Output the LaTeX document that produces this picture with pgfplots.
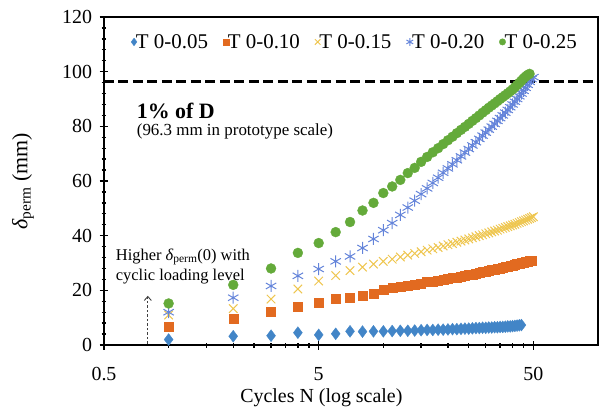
\documentclass[border=0pt]{standalone}
\usepackage{fontspec}
\setmainfont{Liberation Serif}
\usepackage{pgfplots}
\pgfplotsset{compat=1.18}
\usetikzlibrary{arrows.meta}
\definecolor{cA}{RGB}{66,133,199}
\definecolor{cB}{RGB}{226,106,32}
\definecolor{cC}{RGB}{238,198,80}
\definecolor{cD}{RGB}{100,132,218}
\definecolor{cE}{RGB}{100,170,58}
\begin{document}
\begin{tikzpicture}
\begin{axis}[
  name=ax,
  xmode=log,
  scale only axis, width=494bp, height=328bp,
  xmin=0.5, xmax=100, ymin=0, ymax=120,
  xtick={0.5,5,50}, xticklabels={0.5,5,50},
  minor xtick={1,1.5,2,2.5,3,3.5,4,4.5,10,15,20,25,30,35,40,45},
  ytick={0,20,40,60,80,100,120}, minor y tick num=4,
  xtick pos=bottom, ytick pos=left,
  tick align=center,
  major tick length=9bp, minor tick length=5bp,
  every tick/.style={black, line width=1.3bp},
  axis line style={black, line width=1.5bp},
  /pgf/number format/assume math mode=true,
  tick label style={font=\fontsize{20}{22}\selectfont},
  xticklabel style={yshift=-14bp},
  yticklabel style={xshift=-4bp},
  xlabel={Cycles N (log scale)},
  xlabel style={font=\fontsize{20}{22}\selectfont, at={(axis description cs:0.44,0)}, anchor=center, yshift=-53bp},
  ylabel={{\itshape δ}\textsubscript{perm} (mm)},
  ylabel style={font=\fontsize{22}{24}\selectfont, at={(axis description cs:-0.164,0.5)}, anchor=center},
  legend columns=5,
  legend style={draw=none, fill=none, at={(axis description cs:0.508,0.924)}, anchor=center,
    font=\fontsize{21}{23}\selectfont,
    /tikz/every even column/.append style={column sep=13bp},
    /tikz/every odd column/.append style={column sep=-3bp}},
  legend image post style={scale=0.65},
  clip=false,
]
\addplot[black, line width=2.8bp, dash pattern=on 10bp off 4.5bp, forget plot] coordinates {(0.5,96.3) (100,96.3)};

\addplot[only marks, mark=diamond*, mark size=6bp, color=cA, mark options={fill=cA, draw=cA, line width=0.3bp}] table[row sep=\\]{
x y\\ 1 2.0\\ 2 3.2\\ 3 3.4\\ 4 4.5\\ 5 3.7\\ 6 4.1\\ 7 5.0\\ 8 4.9\\ 9 5.0\\ 10 5.0\\
11 5.1\\ 12 5.2\\ 13 5.2\\ 14 5.3\\ 15 5.4\\ 16 5.5\\ 17 5.5\\ 18 5.6\\ 19 5.6\\ 20 5.7\\
21 5.8\\ 22 5.8\\ 23 5.9\\ 24 6.0\\ 25 6.0\\ 26 6.1\\ 27 6.2\\ 28 6.2\\ 29 6.3\\ 30 6.3\\
31 6.4\\ 32 6.4\\ 33 6.5\\ 34 6.5\\ 35 6.6\\ 36 6.6\\ 37 6.7\\ 38 6.8\\ 39 6.8\\ 40 6.9\\
41 7.0\\ 42 7.1\\ 43 7.2\\ 44 7.3\\
};
\addlegendentry{T 0-0.05}

\addplot[only marks, mark=square*, mark size=4.5bp, color=cB, mark options={fill=cB, draw=cB, line width=0.3bp}] table[row sep=\\]{
x y\\ 1 6.8\\ 2 9.6\\ 3 12.3\\ 4 14.2\\ 5 15.6\\ 6 17.0\\ 7 17.2\\ 8 18.2\\ 9 18.8\\ 10 20.3\\
11 20.8\\ 12 21.3\\ 13 21.8\\ 14 22.2\\ 15 22.6\\ 16 23.0\\ 17 23.3\\ 18 23.6\\ 19 23.9\\ 20 24.2\\
21 24.5\\ 22 24.8\\ 23 25.1\\ 24 25.4\\ 25 25.7\\ 26 25.9\\ 27 26.2\\ 28 26.4\\ 29 26.7\\ 30 26.9\\
31 27.2\\ 32 27.4\\ 33 27.6\\ 34 27.9\\ 35 28.1\\ 36 28.3\\ 37 28.5\\ 38 28.8\\ 39 29.0\\ 40 29.2\\
41 29.4\\ 42 29.6\\ 43 29.8\\ 44 30.0\\ 45 30.2\\ 46 30.4\\ 47 30.6\\ 48 30.7\\ 49 30.8\\
};
\addlegendentry{T 0-0.10}

\addplot[only marks, mark=x, mark size=6bp, color=cC, mark options={line width=1bp}] table[row sep=\\]{
x y\\ 1 11.0\\ 2 13.3\\ 3 16.8\\ 4 20.5\\ 5 23.4\\ 6 25.4\\ 7 27.2\\ 8 28.5\\ 9 29.6\\ 10 30.6\\
11 31.4\\ 12 32.2\\ 13 32.9\\ 14 33.5\\ 15 34.1\\ 16 34.7\\ 17 35.2\\ 18 35.7\\ 19 36.2\\ 20 36.7\\
21 37.1\\ 22 37.6\\ 23 38.0\\ 24 38.4\\ 25 38.8\\ 26 39.2\\ 27 39.6\\ 28 40.0\\ 29 40.3\\ 30 40.7\\
31 41.0\\ 32 41.4\\ 33 41.7\\ 34 42.0\\ 35 42.4\\ 36 42.7\\ 37 43.0\\ 38 43.3\\ 39 43.6\\ 40 43.9\\
41 44.2\\ 42 44.5\\ 43 44.8\\ 44 45.1\\ 45 45.4\\ 46 45.7\\ 47 46.0\\ 48 46.3\\ 49 46.6\\ 50 46.9\\
};
\addlegendentry{T 0-0.15}

\addplot[only marks, mark=asterisk, mark size=6bp, color=cD, mark options={line width=1bp}] table[row sep=\\]{
x y\\ 1 12.0\\ 2 17.3\\ 3 21.6\\ 4 25.3\\ 5 27.8\\ 6 30.6\\ 7 32.4\\ 8 35.5\\ 9 38.8\\ 10 42.0\\
11 44.6\\ 12 47.6\\ 13 50.3\\ 14 52.8\\ 15 55.2\\ 16 57.3\\ 17 59.3\\ 18 61.2\\ 19 63.0\\ 20 64.6\\
21 66.1\\ 22 67.6\\ 23 69.0\\ 24 70.4\\ 25 71.7\\ 26 73.0\\ 27 74.2\\ 28 75.4\\ 29 76.6\\ 30 77.7\\
31 78.8\\ 32 79.9\\ 33 80.9\\ 34 82.0\\ 35 83.0\\ 36 84.0\\ 37 85.0\\ 38 86.0\\ 39 87.0\\ 40 88.0\\
41 89.0\\ 42 90.0\\ 43 91.0\\ 44 92.0\\ 45 93.0\\ 46 94.1\\ 47 95.2\\ 48 96.3\\ 49 97.3\\ 50 98.0\\
};
\addlegendentry{T 0-0.20}

\addplot[only marks, mark=*, mark size=5bp, color=cE, mark options={fill=cE, draw=cE, line width=0.3bp}] table[row sep=\\]{
x y\\ 1 15.2\\ 2 22.0\\ 3 28.0\\ 4 33.7\\ 5 37.3\\ 6 41.3\\ 7 45.0\\ 8 49.2\\ 9 52.0\\ 10 55.6\\
11 58.0\\ 12 60.4\\ 13 62.9\\ 14 64.8\\ 15 67.0\\ 16 68.8\\ 17 70.5\\ 18 72.0\\ 19 73.5\\ 20 74.9\\
21 76.2\\ 22 77.5\\ 23 78.7\\ 24 79.8\\ 25 80.9\\ 26 82.0\\ 27 83.0\\ 28 84.0\\ 29 85.0\\ 30 85.9\\
31 86.8\\ 32 87.6\\ 33 88.4\\ 34 89.2\\ 35 90.0\\ 36 90.7\\ 37 91.4\\ 38 92.1\\ 39 92.8\\ 40 93.5\\
41 94.3\\ 42 95.1\\ 43 95.9\\ 44 96.7\\ 45 97.5\\ 46 98.2\\ 47 98.8\\ 48 99.2\\
};
\addlegendentry{T 0-0.25}

\node[anchor=west, font=\bfseries\fontsize{22}{24}\selectfont, inner sep=0pt] at (axis cs:0.71,85.6) {1\% of D};
\node[anchor=west, font=\fontsize{17}{19}\selectfont, inner sep=0pt] at (axis cs:0.71,78.0) {(96.3 mm in prototype scale)};
\node[anchor=west, font=\fontsize{16.5}{18}\selectfont, inner sep=0pt] at (axis cs:0.567,32.2) {Higher {\itshape δ}\textsubscript{perm}(0) with};
\node[anchor=west, font=\fontsize{16.5}{18}\selectfont, inner sep=0pt] at (axis cs:0.567,25.2) {cyclic loading level};
\draw[black!75, line width=0.9bp, dash pattern=on 2.5bp off 2bp, -{Straight Barb[length=4bp, width=7bp]}] (axis cs:0.8,0.5) -- (axis cs:0.8,18);
\end{axis}
\path (ax.south west) ++(-104bp,-73bp) rectangle ++(604bp,418bp);
\end{tikzpicture}
\end{document}
